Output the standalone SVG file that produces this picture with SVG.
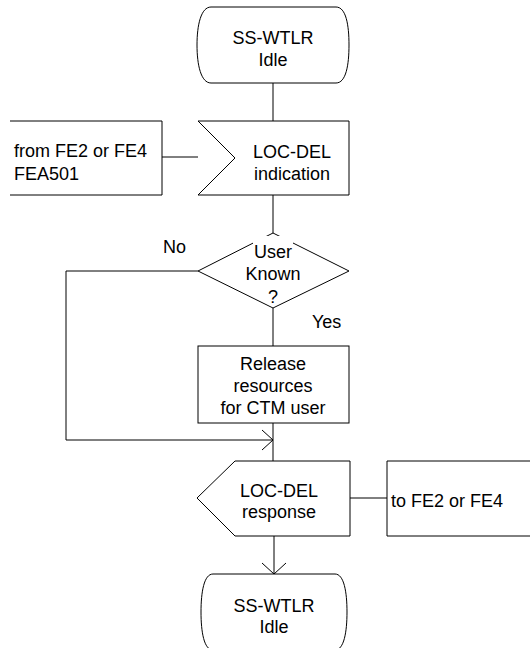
<svg xmlns="http://www.w3.org/2000/svg" width="530" height="648" viewBox="0 0 530 648">
<style>
.s{fill:#fff;stroke:#000;stroke-width:1}
.c{fill:none;stroke:#000;stroke-width:1}
text{font-family:"Liberation Sans",Arial,sans-serif;font-size:18px;fill:#000}
.m{text-anchor:middle}
</style>
<rect width="530" height="648" fill="#fff"/>
<g id="connectors">
<line class="c" x1="273" y1="83" x2="273" y2="121"/>
<line class="c" x1="162" y1="157" x2="198" y2="157"/>
<line class="c" x1="273" y1="195" x2="273" y2="233"/>
<line class="c" x1="273" y1="308" x2="273" y2="346"/>
<polyline class="c" points="198,271 66,271 66,440 273,440"/>
<polyline class="c" points="262,430 273,440 262,450"/>
<line class="c" x1="273" y1="423" x2="273" y2="461"/>
<line class="c" x1="350" y1="498" x2="387" y2="498"/>
<line class="c" x1="274" y1="536" x2="274" y2="574"/>
<polyline class="c" points="262,563 274,574 286,563"/>
</g>
<g id="start">
<path class="s" d="M211,7 H336 C346,7 349,25 349,45 C349,65 346,83 336,83 H211 C201,83 197,65 197,45 C197,25 201,7 211,7 Z"/>
<text class="m" x="273" y="44">SS-WTLR</text>
<text class="m" x="273" y="66">Idle</text>
</g>
<g id="from">
<polyline class="c" points="10,121 162,121 162,195 10,195"/>
<text x="14" y="157">from FE2 or FE4</text>
<text x="14" y="180">FEA501</text>
</g>
<g id="input">
<polygon class="s" points="198,121 349,121 349,195 198,195 235,158"/>
<text class="m" x="292" y="158">LOC-DEL</text>
<text class="m" x="292" y="180">indication</text>
</g>
<g id="decision">
<polygon class="s" points="273,233 349,271 273,308 198,271"/>
<rect x="253" y="236" width="40" height="14" fill="#fff"/>
<text class="m" x="273" y="258">User</text>
<text class="m" x="273" y="280">Known</text>
<text class="m" x="273" y="303">?</text>
<text x="163" y="253">No</text>
<text x="312" y="328">Yes</text>
</g>
<g id="release">
<rect class="s" x="198" y="346" width="151" height="77"/>
<text class="m" x="273" y="370">Release</text>
<text class="m" x="273" y="392">resources</text>
<text class="m" x="273" y="414">for CTM user</text>
</g>
<g id="output">
<polygon class="s" points="235,461 350,461 350,536 235,536 197,498"/>
<text class="m" x="279" y="497">LOC-DEL</text>
<text class="m" x="279" y="518">response</text>
</g>
<g id="to">
<polyline class="c" points="531,461 387,461 387,536 531,536"/>
<text x="391" y="507">to FE2 or FE4</text>
</g>
<g id="end">
<path class="s" d="M213,574 H335 C344,574 347,592 347,612 C347,632 344,650 335,650 H213 C204,650 201,632 201,612 C201,592 204,574 213,574 Z"/>
<text class="m" x="274" y="612">SS-WTLR</text>
<text class="m" x="274" y="633">Idle</text>
</g>
</svg>
